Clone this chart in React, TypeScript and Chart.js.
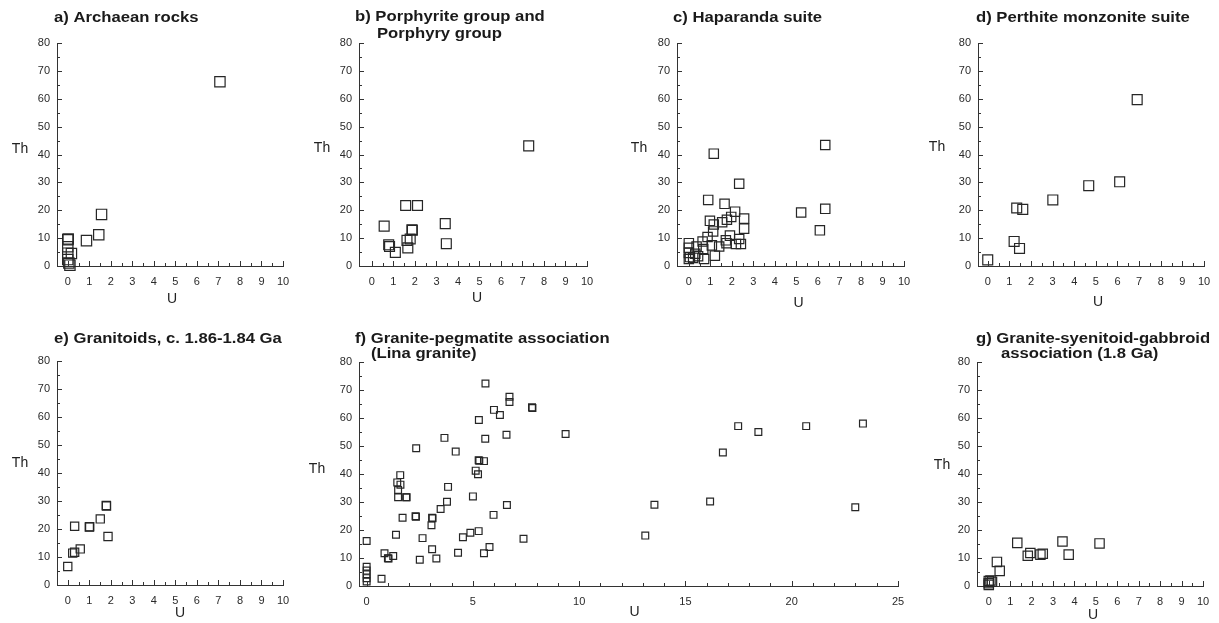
import React, { useEffect, useRef } from "react";
import { Chart, registerables } from "chart.js";

Chart.register(...registerables);
Chart.defaults.font.family = '"Liberation Sans", Arial, Helvetica, sans-serif';

// ---------- tick labels ----------
const uTicksNarrow = [0, 1, 2, 3, 4, 5, 6, 7, 8, 9, 10];
const uTicksWide = [0, 5, 10, 15, 20, 25];
const thTicks = [0, 10, 20, 30, 40, 50, 60, 70, 80];

// ---------- titles ----------
const titleA = ["a) Archaean rocks"];
const titleB = ["b) Porphyrite group and", "Porphyry group"];
const titleC = ["c) Haparanda suite"];
const titleD = ["d) Perthite monzonite suite"];
const titleE = ["e) Granitoids, c. 1.86-1.84 Ga"];
const titleF = ["f) Granite-pegmatite association", "(Lina granite)"];
const titleG = ["g) Granite-syenitoid-gabbroid", "association (1.8 Ga)"];

// ---------- data (U, Th) ----------
const archaeanU = [7.07, 1.57, 1.44, 0.87, 0.0, 0.02, 0.0, 0.0, 0.17, 0.0, 0.05, 0.1];
const archaeanTh = [66.1, 18.5, 11.2, 9.1, 9.4, 9.7, 6.9, 4.6, 4.5, 2.3, 1.1, 0.3];

const porphyryU = [7.29, 1.57, 2.12, 0.57, 3.41, 3.46, 1.86, 1.88, 1.63, 1.78, 1.67, 0.78, 0.82, 1.09];
const porphyryTh = [43.1, 21.7, 21.7, 14.3, 15.2, 8.0, 13.0, 12.8, 9.2, 9.7, 6.5, 7.6, 7.0, 4.9];

const haparandaU = [1.16, 6.34, 2.34, 0.9, 1.66, 5.22, 6.34, 6.09, 2.15, 1.97, 1.77, 2.57, 2.57, 0.98, 1.16, 1.13, 1.55, 0.87, 1.91, 2.34, 2.42, 2.19, 1.72, 1.75, 1.41, 1.07, 1.21, 0.64, 0.67, 0.36, 0.71, 0.0, 0.0, 0.0, 0.05, 0.2, 0.3, 0.0, 0.43];
const haparandaTh = [40.3, 43.4, 29.5, 23.7, 22.3, 19.2, 20.5, 12.8, 19.5, 17.6, 16.6, 17.0, 13.4, 16.2, 14.9, 12.4, 15.7, 10.4, 10.9, 9.7, 7.9, 7.9, 9.2, 8.2, 7.0, 7.4, 3.7, 8.8, 6.1, 7.0, 2.5, 8.2, 6.5, 4.7, 3.2, 2.9, 4.4, 2.5, 3.5];

const perthiteU = [6.91, 6.1, 4.67, 3.01, 1.34, 1.62, 1.22, 1.47, 0.0];
const perthiteTh = [59.7, 30.2, 28.8, 23.7, 20.8, 20.3, 8.8, 6.3, 2.2];

const granitoidU = [1.79, 1.8, 1.51, 1.0, 1.02, 0.32, 1.87, 0.58, 0.32, 0.23, 0.0];
const granitoidTh = [28.4, 28.2, 23.6, 20.7, 20.8, 21.0, 17.3, 12.9, 11.7, 11.4, 6.6];

const pegmatiteU = [5.59, 6.72, 6.72, 7.78, 7.8, 5.99, 6.27, 5.28, 9.36, 6.58, 3.66, 5.58, 2.33, 4.19, 5.27, 5.3, 5.52, 5.13, 5.24, 1.58, 1.44, 1.59, 1.48, 1.48, 1.86, 1.88, 3.83, 5.0, 3.78, 6.6, 3.48, 5.97, 2.3, 2.32, 3.08, 3.1, 1.69, 3.05, 1.38, 5.27, 4.88, 4.53, 2.63, 7.38, 0.0, 5.78, 3.08, 0.84, 1.25, 1.0, 1.03, 4.3, 5.52, 2.5, 3.28, 0.7, 0.0, 0.0, 0.0, 0.0, 0.0, 13.54, 13.11, 16.16, 16.76, 17.48, 18.43, 20.68, 23.35, 22.99];
const pegmatiteTh = [72.3, 67.6, 65.7, 63.8, 63.6, 62.9, 61.1, 59.3, 54.3, 54.0, 52.9, 52.6, 49.2, 48.0, 44.9, 44.7, 44.6, 41.2, 39.9, 39.6, 37.0, 36.2, 34.3, 31.7, 31.7, 31.7, 35.4, 32.0, 30.1, 28.9, 27.5, 25.4, 24.9, 24.7, 24.4, 24.2, 24.4, 21.7, 18.3, 19.6, 19.0, 17.4, 17.1, 16.9, 16.1, 13.9, 13.1, 11.7, 10.7, 9.9, 9.8, 11.9, 11.7, 9.4, 9.8, 2.6, 6.9, 5.5, 4.2, 2.8, 1.6, 29.0, 18.0, 30.2, 47.7, 57.1, 55.0, 57.1, 58.0, 28.1];

const syenitoidU = [1.33, 3.44, 5.17, 3.73, 1.94, 1.82, 2.41, 2.52, 0.38, 0.51, 0.0, 0.08, 0.0, 0.0, 0.15];
const syenitoidTh = [15.4, 15.9, 15.2, 11.2, 11.8, 10.8, 11.2, 11.5, 8.6, 5.4, 1.8, 2.0, 0.4, 1.0, 1.5];

// ---------- layout of panels ----------
type Spec = {
  L: number; T: number; R: number; B: number;
  xMin: number; xMax: number; xTicks: number[]; minorDiv: number;
  u: number[]; th: number[]; r: number;
  title: string[]; tdx: number[]; tdy: number[];
  thDx: number; thDy: number; uDx: number; uDy: number;
};

const specs: Spec[] = [
  { L: 57, T: 43, R: 283, B: 266, xMin: -0.5, xMax: 10, xTicks: uTicksNarrow, minorDiv: 2, u: archaeanU, th: archaeanTh, r: 7.3, title: titleA, tdx: [-3], tdy: [-21], thDx: -37, thDy: -5, uDx: 2, uDy: 33 },
  { L: 359, T: 43, R: 587, B: 266, xMin: -0.6, xMax: 10, xTicks: uTicksNarrow, minorDiv: 2, u: porphyryU, th: porphyryTh, r: 7.0, title: titleB, tdx: [-4, 18], tdy: [-22, -5], thDx: -37, thDy: -6, uDx: 4, uDy: 32 },
  { L: 677, T: 43, R: 904, B: 266, xMin: -0.55, xMax: 10, xTicks: uTicksNarrow, minorDiv: 2, u: haparandaU, th: haparandaTh, r: 6.6, title: titleC, tdx: [-4], tdy: [-21], thDx: -38, thDy: -6, uDx: 8, uDy: 37 },
  { L: 978, T: 43, R: 1204, B: 266, xMin: -0.45, xMax: 10, xTicks: uTicksNarrow, minorDiv: 2, u: perthiteU, th: perthiteTh, r: 7.0, title: titleD, tdx: [-2], tdy: [-21], thDx: -41, thDy: -7, uDx: 7, uDy: 36 },
  { L: 57, T: 361, R: 283, B: 585, xMin: -0.5, xMax: 10, xTicks: uTicksNarrow, minorDiv: 2, u: granitoidU, th: granitoidTh, r: 5.8, title: titleE, tdx: [-3], tdy: [-18], thDx: -37, thDy: -10, uDx: 10, uDy: 28 },
  { L: 359, T: 362, R: 898, B: 586, xMin: -0.36, xMax: 25, xTicks: uTicksWide, minorDiv: 5, u: pegmatiteU, th: pegmatiteTh, r: 4.8, title: titleF, tdx: [-4, 12], tdy: [-19, -4], thDx: -42, thDy: -5, uDx: 6, uDy: 26 },
  { L: 977, T: 362, R: 1203, B: 586, xMin: -0.55, xMax: 10, xTicks: uTicksNarrow, minorDiv: 2, u: syenitoidU, th: syenitoidTh, r: 6.6, title: titleG, tdx: [-1, 24], tdy: [-19, -4], thDx: -35, thDy: -9, uDx: 3, uDy: 29 },
];

const PAD_L = 57;
const PAD_T = 43;
const PAD_R = 20;
const PAD_B = 45;
const INK = "#262626";

function makeDecor(spec: Spec) {
  return {
    id: "decor",
    afterDraw(chart: any) {
      const ctx = chart.ctx as CanvasRenderingContext2D;
      const { left, top, bottom } = chart.chartArea;
      const xs = chart.scales.x;
      const ys = chart.scales.y;
      ctx.save();
      ctx.strokeStyle = "#333";
      ctx.lineWidth = 1;
      ctx.beginPath();
      // x ticks (inward)
      const xt = spec.xTicks;
      for (let i = 0; i < xt.length; i++) {
        const px = Math.round(xs.getPixelForValue(xt[i])) + 0.5;
        ctx.moveTo(px, bottom);
        ctx.lineTo(px, bottom - 5);
        if (i < xt.length - 1) {
          for (let k = 1; k < spec.minorDiv; k++) {
            const v = xt[i] + ((xt[i + 1] - xt[i]) * k) / spec.minorDiv;
            const pm = Math.round(xs.getPixelForValue(v)) + 0.5;
            ctx.moveTo(pm, bottom);
            ctx.lineTo(pm, bottom - 3);
          }
        }
      }
      // y ticks (inward)
      for (let i = 0; i < thTicks.length; i++) {
        const py = Math.round(ys.getPixelForValue(thTicks[i])) + 0.5;
        ctx.moveTo(left, py);
        ctx.lineTo(left + 5, py);
        if (i < thTicks.length - 1) {
          const v = (thTicks[i] + thTicks[i + 1]) / 2;
          const pm = Math.round(ys.getPixelForValue(v)) + 0.5;
          ctx.moveTo(left, pm);
          ctx.lineTo(left + 3, pm);
        }
      }
      ctx.stroke();

      // titles (bold, slightly wide)
      ctx.fillStyle = "#1a1a1a";
      ctx.font = 'bold 14px "Liberation Sans", Arial, sans-serif';
      ctx.textAlign = "left";
      ctx.textBaseline = "alphabetic";
      spec.title.forEach((line, i) => {
        ctx.save();
        ctx.translate(left + spec.tdx[i], top + spec.tdy[i]);
        ctx.scale(1.19, 1);
        ctx.fillText(line, 0, 0);
        ctx.restore();
      });

      // axis titles
      ctx.font = '14px "Liberation Sans", Arial, sans-serif';
      ctx.fillStyle = "#222";
      ctx.textAlign = "center";
      ctx.textBaseline = "middle";
      const cy = (top + bottom) / 2;
      ctx.fillText("Th", left + spec.thDx, cy + spec.thDy);
      const cx = (chart.chartArea.left + chart.chartArea.right) / 2;
      ctx.fillText("U", cx + spec.uDx, bottom + spec.uDy);
      ctx.restore();
    },
  };
}

function Panel({ spec }: { spec: Spec }) {
  const ref = useRef<HTMLCanvasElement>(null);
  const w = spec.R - spec.L + PAD_L + PAD_R;
  const h = spec.B - spec.T + PAD_T + PAD_B;
  useEffect(() => {
    if (!ref.current) return;
    const points = spec.u.map((u, i) => ({ x: u, y: spec.th[i] }));
    const chart = new Chart(ref.current, {
      type: "scatter",
      data: {
        datasets: [
          {
            data: points,
            pointStyle: "rect",
            pointRadius: spec.r,
            pointBorderWidth: 1.2,
            borderColor: INK,
            backgroundColor: "rgba(0,0,0,0)",
            showLine: false,
            clip: false as any,
          } as any,
        ],
      },
      options: {
        responsive: false,
        animation: false,
        events: [],
        layout: { padding: { left: PAD_L - 30, top: PAD_T, right: PAD_R, bottom: PAD_B - 25 } },
        plugins: { legend: { display: false }, tooltip: { enabled: false }, title: { display: false } },
        scales: {
          x: {
            type: "linear",
            min: spec.xMin,
            max: spec.xMax,
            afterBuildTicks: (s: any) => {
              s.ticks = spec.xTicks.map((v) => ({ value: v }));
            },
            afterFit: (s: any) => {
              s.height = 25;
            },
            grid: { display: false, drawTicks: false },
            border: { display: true, color: "#333", width: 1 },
            ticks: { autoSkip: false, maxRotation: 0, padding: 9, color: "#2a2a2a", font: { size: 11 } },
          },
          y: {
            type: "linear",
            min: 0,
            max: 80,
            afterBuildTicks: (s: any) => {
              s.ticks = thTicks.map((v) => ({ value: v }));
            },
            afterFit: (s: any) => {
              s.width = 30;
            },
            grid: { display: false, drawTicks: false },
            border: { display: true, color: "#333", width: 1 },
            ticks: { autoSkip: false, padding: 7, color: "#2a2a2a", font: { size: 11 } },
          },
        },
      },
      plugins: [makeDecor(spec)],
    } as any);
    return () => chart.destroy();
  }, []);
  return (
    <canvas
      ref={ref}
      width={w}
      height={h}
      style={{ position: "absolute", left: spec.L - PAD_L, top: spec.T - PAD_T, width: w, height: h }}
    />
  );
}

export default function App() {
  return (
    <div
      style={{
        position: "absolute",
        left: 0,
        top: 0,
        width: 1219,
        height: 623,
        overflow: "hidden",
        background: "#fff",
      }}
    >
      {specs.map((s, i) => (
        <Panel key={i} spec={s} />
      ))}
    </div>
  );
}
